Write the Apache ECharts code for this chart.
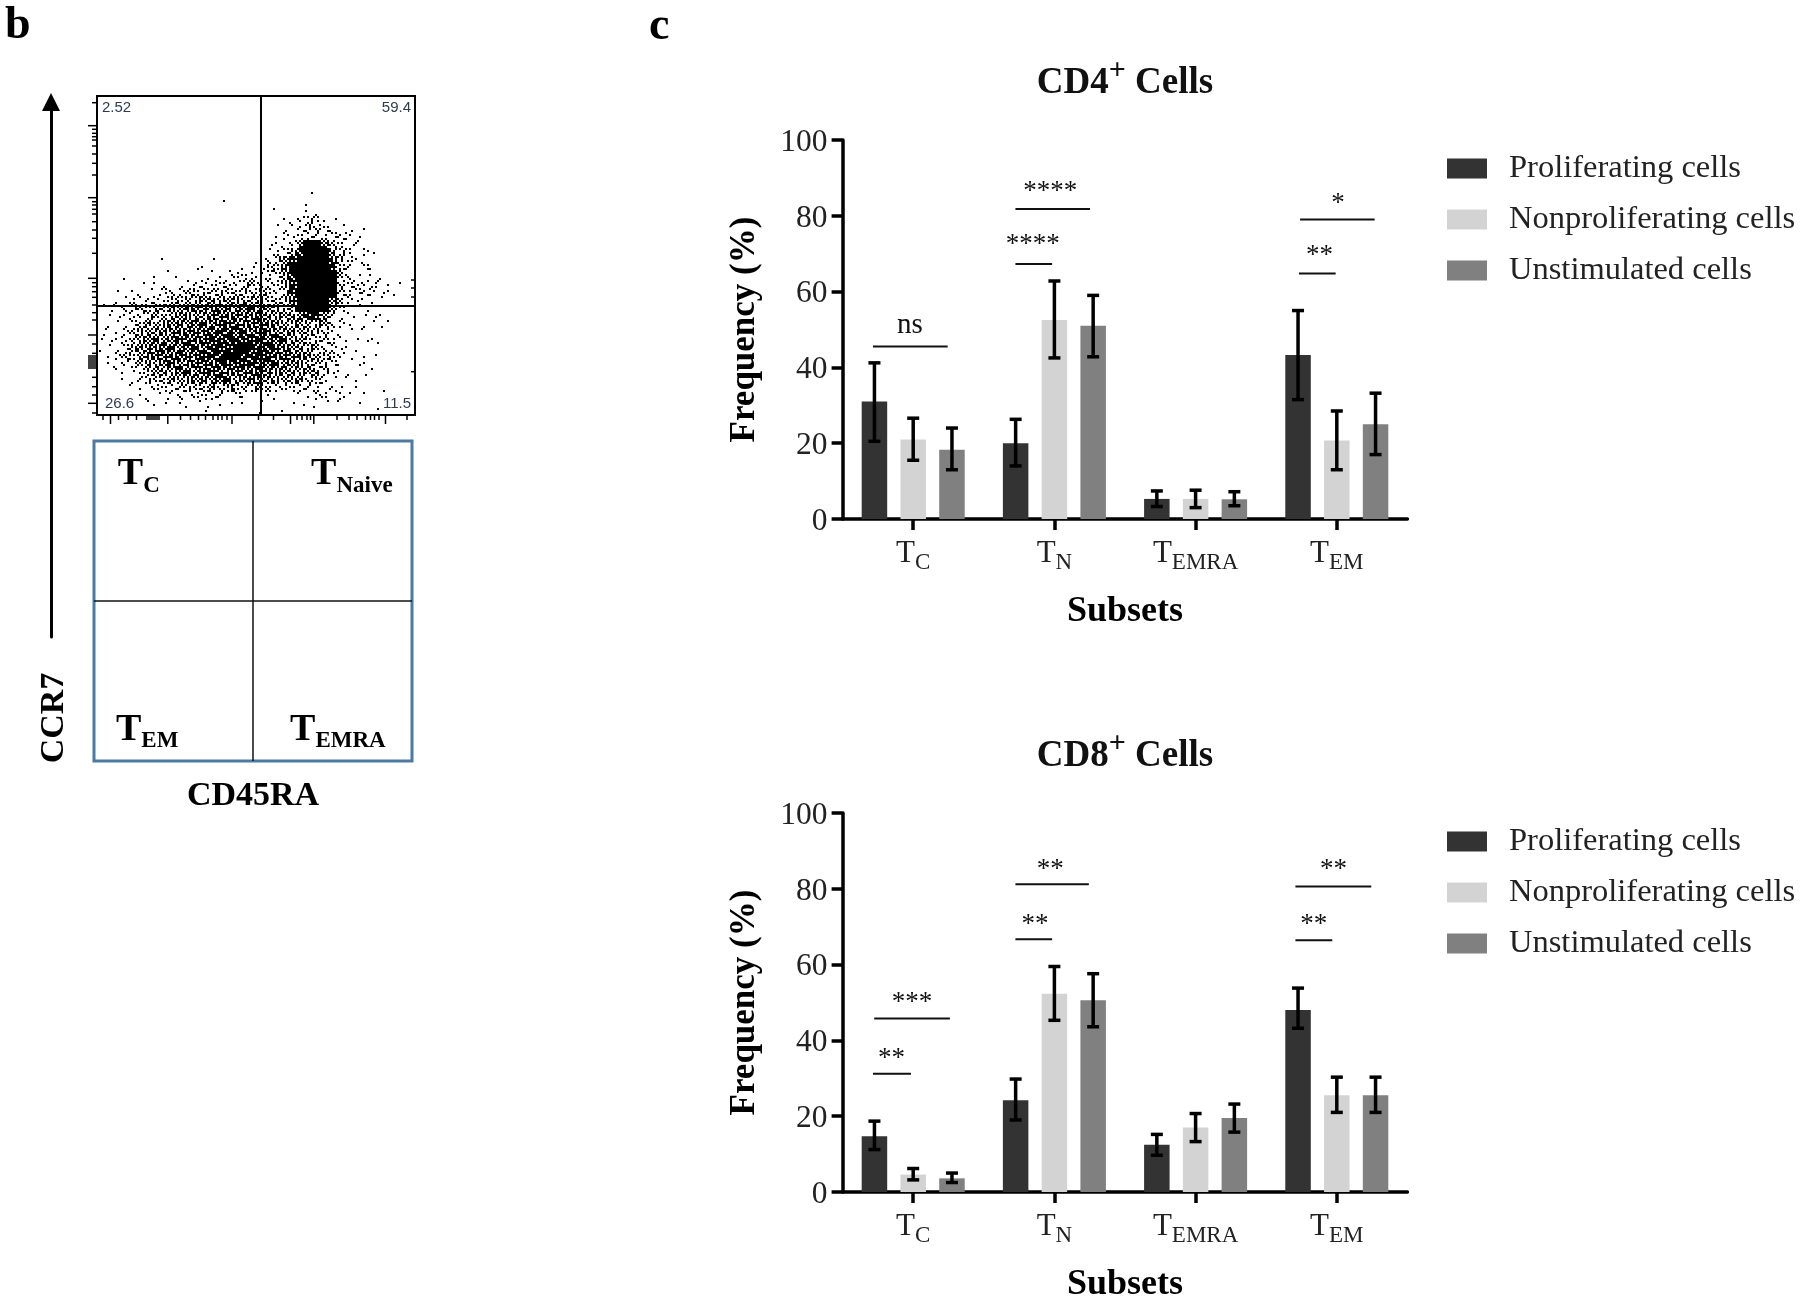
<!DOCTYPE html>
<html><head><meta charset="utf-8">
<style>html,body{margin:0;padding:0;background:#fff}#c{width:1800px;height:1298px}</style>
<script src="https://cdn.jsdelivr.net/npm/echarts@6/dist/echarts.min.js"></script>
</head><body><div id="c"></div>
<script>
// ---------- panel c values ----------
const subsets = ['C', 'N', 'EMRA', 'EM'];
const groupNames = ['Proliferating cells', 'Nonproliferating cells', 'Unstimulated cells'];
const groupColors = ['#333333', '#d3d3d3', '#808080'];
const yTicksMax = 100;

const cd4Prolif = [31, 20, 5.3, 43.3];
const cd4ProlifLow = [20.5, 14, 3.3, 31.5];
const cd4ProlifHigh = [41.2, 26.3, 7.4, 55];
const cd4Non = [21, 52.5, 5.3, 20.7];
const cd4NonLow = [15.5, 42.5, 3, 13];
const cd4NonHigh = [26.6, 62.8, 7.6, 28.5];
const cd4Unstim = [18.3, 51, 5.2, 25];
const cd4UnstimLow = [13, 42.8, 3.5, 17];
const cd4UnstimHigh = [24, 59, 7.2, 33.2];

const cd8Prolif = [14.7, 24.2, 12.5, 48];
const cd8ProlifLow = [11.2, 19, 9.7, 43.2];
const cd8ProlifHigh = [18.7, 29.8, 15.2, 53.8];
const cd8Non = [4.6, 52.3, 17, 25.5];
const cd8NonLow = [3.2, 45.3, 13.3, 21];
const cd8NonHigh = [6.2, 59.5, 20.7, 30.3];
const cd8Unstim = [3.6, 50.6, 19.5, 25.5];
const cd8UnstimLow = [2.5, 43.6, 15.8, 21];
const cd8UnstimHigh = [5, 57.6, 23.2, 30.3];

// significance brackets: category, from, to (category widths from its centre), value
const cd4SigLines = [[0,-.285,.244,45.5],[1,-.276,.252,81.8],[1,-.276,-.016,67.3],[3,-.26,.268,79],[3,-.268,-.008,64.8]];
const cd4SigMarks = ['ns','****','****','*','**'];
const cd4SigPos = [[0,-.024,51.2],[1,-.03,87.9],[1,-.154,73.9],[3,.008,84.8],[3,-.122,70.9]];
const cd8SigLines = [[0,-.276,.26,45.8],[0,-.285,-.016,31.2],[1,-.276,.244,81.2],[1,-.276,-.016,66.7],[3,-.293,.244,80.6],[3,-.293,-.032,66.4]];
const cd8SigMarks = ['***','**','**','**','**','**'];
const cd8SigPos = [[0,-.008,51.5],[0,-.154,36.7],[1,-.03,86.7],[1,-.138,72.1],[3,-.024,86.7],[3,-.163,72.1]];

// ---------- panel b values ----------
const flowPercents = ['2.52', '59.4', '26.6', '11.5'];
const gateX = 163.5;
const gateY = 210;
// dot density: one string per 8-unit row, one digit per 8-unit column
const flowDensity = [
"","","","","","","","","","","","",
"..........................1",
"...............1..........1",
"......................1...11",
".......................1123211",
"......................1112332111.1",
"......................12122222221",
".....................1112699632 2",
".....................12248999532 21",
"........1.....1....1.2358999973211",
"........1...111.1.11133699999832 21",
"...1...1.1...1.112221225899999321 11",
".....1.11.1122222233222489999932222111",
"..1.1111222333333333332389999932222111",
"..1121222334444444444333799997321111",
"1112333445566666666665435999952 11",
".11122333555556666666554468852111111",
".1112344556666777766665544444221 1111",
"11123455566677788777766554433111 1",
"111235566677778888888776543332111111",
"111245667777778889988876554322111",
".1233566677778889988887766543321 11",
".112235566667778788877665543321 11",
"..111235556667776667765555443111 11",
"...112333455566765566544443321 11",
"....111222333343433333222222 21.1..1",
".....11111212222 21..11..1122 21.1",
"......111.1111.11.1.1...11.11.1.1",
"..........1..1......1..1..1.....1..1"
];
const doseOrder = [0,8,2,10,12,4,14,6,3,11,1,9,15,7,13,5];
const dotCount = [0,1,3,5,7,8,10,11,13,16];

const flowTicksX = [6,13.5,21.5,31,39.5,50,52,54,56,58,60,62,70.8,83.5,93.5,101.5,108.5,116,121,125,130,135,161.5,176.5,193.5,200,205,210,213.5,216.8,240,252,260,268.5,273.5,277.5,282,288.5,310];
const flowMajorX = [13.5,70.8,135,193.5,216.8,288.5];
const flowTicksY = [6.7,29.7,33.3,37.3,40.7,44,50,58,67.3,79,101.7,105.7,109,113.3,118,125.7,134,142.3,157.3,182.3,186.7,190.7,195.7,201.3,209,216.7,224,239,248,257.3,260,262,264,266,268,270,272,281.3,290.7,299,307.3,317];
const flowMajorY = [29.7,101.7,182.3,239,260,262,264,266,268,270,272,307.3];
const flowRightTicks = [184,192,201,275.7];

const quadrantLabels = [
  { x: 0, y: 0, sub: 'C' }, { x: 1, y: 0, sub: 'Naive' },
  { x: 0, y: 1, sub: 'EM' }, { x: 1, y: 1, sub: 'EMRA' }
];
const quadrantAnchors = [[.15,.215],[.365,.215],[.138,.812],[.233,.812]];

// ---------- layout ----------
const SERIF = 'Liberation Serif';
const grids = [
  { left: 97, top: 96, width: 318, height: 319, show: true, borderColor: '#000', borderWidth: 2, backgroundColor: '#fff', outerBoundsMode: 'none' },
  { left: 94, top: 441, width: 318, height: 320, show: true, borderColor: '#4a7ba6', borderWidth: 3, backgroundColor: 'transparent', outerBoundsMode: 'none' },
  { left: 51, top: 102, width: 1, height: 535, outerBoundsMode: 'none' },
  { left: 842.6, top: 140, width: 564.8, height: 379, outerBoundsMode: 'none' },
  { left: 842.6, top: 813, width: 564.8, height: 379, outerBoundsMode: 'none' }
];

function catAxis(gi) {
  return {
    type: 'category', gridIndex: gi, data: subsets,
    name: 'Subsets', nameLocation: 'middle', nameGap: 75,
    nameTextStyle: { fontFamily: SERIF, fontWeight: 'bold', fontSize: 36, color: '#000' },
    axisLine: { lineStyle: { color: '#000', width: 3.5 } },
    axisTick: { show: true, alignWithLabel: true, length: 11, lineStyle: { color: '#000', width: 3.5 } },
    axisLabel: {
      interval: 0, margin: 19, color: '#222',
      formatter: v => '{t|T}{s|' + v + '}',
      rich: {
        t: { fontFamily: SERIF, fontSize: 31, lineHeight: 34, color: '#222', verticalAlign: 'top' },
        s: { fontFamily: SERIF, fontSize: 23, lineHeight: 26, color: '#222', verticalAlign: 'top', padding: [13,0,0,0] }
      }
    }
  };
}
function valAxis(gi) {
  return {
    type: 'value', gridIndex: gi, min: 0, max: yTicksMax, interval: 20,
    name: 'Frequency (%)', nameLocation: 'middle', nameGap: 80, nameRotate: 90,
    nameTextStyle: { fontFamily: SERIF, fontWeight: 'bold', fontSize: 35, color: '#000' },
    splitLine: { show: false },
    axisLine: { show: true, lineStyle: { color: '#000', width: 3.5 } },
    axisTick: { show: true, length: 11, lineStyle: { color: '#000', width: 3.5 } },
    axisLabel: {
      margin: 15, formatter: '{v|{value}}',
      rich: { v: { fontFamily: SERIF, fontSize: 31.5, lineHeight: 32, color: '#222', padding: [5,0,0,0] } }
    }
  };
}
function flowAxis(gi, dim, max) {
  return { type: 'value', gridIndex: gi, min: 0, max: max, inverse: dim === 'y', show: false };
}

function barSeries(name, vals, i, xi) {
  return { type: 'bar', name, data: vals, xAxisIndex: xi, yAxisIndex: xi, barWidth: 25.5, barGap: '52%',
           itemStyle: { color: groupColors[i] }, silent: true, z: 2 };
}
function errorSeries(low, high, i, xi) {
  const frac = 0.2745 * (i - 1);
  return {
    type: 'custom', xAxisIndex: xi, yAxisIndex: xi, z: 5, silent: true,
    data: subsets.map((_, k) => [k, low[k], high[k]]),
    renderItem(p, api) {
      const unit = api.size([1, 0])[0];
      const cx = api.coord([api.value(0), 0])[0] + frac * unit;
      const y0 = api.coord([0, api.value(1)])[1];
      const y1 = api.coord([0, api.value(2)])[1];
      const st = { stroke: '#000', lineWidth: 3.5 };
      const cap = 6;
      return { type: 'group', children: [
        { type: 'line', shape: { x1: cx, y1: y0, x2: cx, y2: y1 }, style: st },
        { type: 'line', shape: { x1: cx - cap, y1: y0, x2: cx + cap, y2: y0 }, style: st },
        { type: 'line', shape: { x1: cx - cap, y1: y1, x2: cx + cap, y2: y1 }, style: st }
      ] };
    }
  };
}
function sigSeries(lines, marks, pos, xi) {
  return [{
    type: 'custom', xAxisIndex: xi, yAxisIndex: xi, z: 6, silent: true, data: lines,
    renderItem(p, api) {
      const unit = api.size([1, 0])[0];
      const c = api.coord([api.value(0), api.value(3)]);
      return { type: 'line', shape: { x1: c[0] + api.value(1) * unit, y1: c[1], x2: c[0] + api.value(2) * unit, y2: c[1] },
               style: { stroke: '#111', lineWidth: 2 } };
    }
  }, {
    type: 'custom', xAxisIndex: xi, yAxisIndex: xi, z: 6, silent: true, data: pos,
    renderItem(p, api) {
      const unit = api.size([1, 0])[0];
      const c = api.coord([api.value(0), api.value(2)]);
      const txt = marks[p.dataIndex];
      const isNs = txt === 'ns';
      return { type: 'text', x: c[0] + api.value(1) * unit, y: c[1] + (isNs ? 0 : 6),
               style: { text: txt, fontFamily: SERIF, fontSize: isNs ? 29 : 27, fill: '#111', align: 'center', verticalAlign: 'middle' } };
    }
  }];
}
function legendAt(top) {
  return { orient: 'vertical', left: 1447, top, padding: 0, icon: 'rect', itemWidth: 40, itemHeight: 20, itemGap: 16, selectedMode: false,
           data: groupNames,
           textStyle: { fontFamily: SERIF, fontSize: 32.5, lineHeight: 35, color: '#222', padding: [0,0,0,17] } };
}
const titleRich = {
  m: { fontFamily: SERIF, fontWeight: 'bold', fontSize: 37, lineHeight: 44, color: '#111' },
  p: { fontFamily: SERIF, fontSize: 30, lineHeight: 20, color: '#111', padding: [0,0,23,0] }
};
const markRich = {
  t: { fontFamily: SERIF, fontWeight: 'bold', fontSize: 38, lineHeight: 40, color: '#000', verticalAlign: 'top' },
  s: { fontFamily: SERIF, fontWeight: 'bold', fontSize: 23, lineHeight: 26, color: '#000', verticalAlign: 'top', padding: [19,0,0,0] }
};

const option = {
  animation: false,
  backgroundColor: '#fff',
  textStyle: { fontFamily: SERIF },
  title: [
    { text: 'b', left: 5, top: 3, padding: 0, textStyle: { fontFamily: SERIF, fontWeight: 'bold', fontSize: 46, color: '#000' } },
    { text: 'c', left: 649, top: 4, padding: 0, textStyle: { fontFamily: SERIF, fontWeight: 'bold', fontSize: 46, color: '#000' } },
    { text: '{m|CD4}{p|+}{m| Cells}', left: 1125, top: 61, padding: 0, textAlign: 'center', textStyle: { rich: titleRich } },
    { text: '{m|CD8}{p|+}{m| Cells}', left: 1125, top: 734, padding: 0, textAlign: 'center', textStyle: { rich: titleRich } },
    { text: 'CD45RA', left: 253, top: 779, padding: 0, textAlign: 'center', textStyle: { fontFamily: SERIF, fontWeight: 'bold', fontSize: 34, color: '#000' } }
  ],
  legend: [legendAt(151), legendAt(824)],
  grid: grids,
  xAxis: [ flowAxis(0,'x',318), { type:'value', gridIndex:1, min:0, max:2, interval:1,
      axisLine:{show:false}, axisTick:{show:false}, axisLabel:{show:false},
      splitLine:{show:true, showMinLine:false, showMaxLine:false, lineStyle:{color:'#111', width:1.5}} },
    { type:'value', gridIndex:2, show:false }, catAxis(3), catAxis(4) ],
  yAxis: [ flowAxis(0,'y',319), { type:'value', gridIndex:1, min:0, max:2, interval:1, inverse:true,
      axisLine:{show:false}, axisTick:{show:false}, axisLabel:{show:false},
      splitLine:{show:true, showMinLine:false, showMaxLine:false, lineStyle:{color:'#111', width:1.5}} },
    { type:'value', gridIndex:2, min:0, max:1, splitLine:{show:false}, axisTick:{show:false}, axisLabel:{show:false},
      axisLine:{show:true, onZero:false, symbol:['none','triangle'], symbolSize:[18,18], lineStyle:{color:'#000', width:3}},
      name:'{a|CCR7}', nameLocation:'start', nameRotate:90, nameGap:81,
      nameTextStyle:{align:'center', verticalAlign:'middle',
        rich:{ a:{fontFamily:SERIF, fontWeight:'bold', fontSize:34, lineHeight:36, color:'#000', padding:[7,0,0,0]} } } },
    valAxis(3), valAxis(4) ],
  series: [
    // dot plot rendered from the density read-out
    { type: 'custom', xAxisIndex: 0, yAxisIndex: 0, z: 3, silent: true,
      data: flowDensity.flatMap((row, r) => row.split('').map((ch, c) => [c, r, ch >= '1' && ch <= '9' ? +ch : 0]).filter(d => d[2] > 0)),
      renderItem(p, api) {
        const c = api.value(0), r = api.value(1), d = api.value(2);
        const n = dotCount[d], off = (c * 5 + r * 7) % 16, kids = [];
        const base = api.coord([c * 8, r * 8]);
        const pick = Array.from({length:16}, (_, i) => i).filter(i => (doseOrder[i] + off) % 16 < n);
        for (const i of pick) {
          kids.push({ type: 'rect', shape: { x: base[0] + (i % 4) * 2, y: base[1] + (i >> 2) * 2, width: 2, height: 2 }, style: { fill: '#000' } });
        }
        return { type: 'group', children: kids };
      } },
    // gates
    { type: 'line', xAxisIndex: 0, yAxisIndex: 0, data: [], z: 4, silent: true,
      markLine: { silent: true, symbol: 'none', label: { show: false }, lineStyle: { color: '#000', width: 2, type: 'solid' },
                  animation: false, data: [{ xAxis: gateX }, { yAxis: gateY }] } },
    // plot ticks
    { type: 'custom', xAxisIndex: 0, yAxisIndex: 0, z: 4, silent: true,
      data: flowTicksX.map(v => [0, v]).concat(flowTicksY.map(v => [1, v]), flowRightTicks.map(v => [2, v])),
      renderItem(p, api) {
        const kind = api.value(0), v = api.value(1);
        const st = { stroke: '#000', lineWidth: 1.5 };
        if (kind === 0) {
          const a = api.coord([v, 319]);
          const len = flowMajorX.includes(v) ? 9 : 5;
          return { type: 'line', shape: { x1: a[0], y1: a[1], x2: a[0], y2: a[1] + len }, style: st };
        }
        if (kind === 1) {
          const a = api.coord([0, v]);
          const len = flowMajorY.includes(v) ? 9 : 5;
          return { type: 'line', shape: { x1: a[0] - len, y1: a[1], x2: a[0], y2: a[1] }, style: st };
        }
        const a = api.coord([318, v]);
        return { type: 'line', shape: { x1: a[0] - 4, y1: a[1], x2: a[0], y2: a[1] }, style: st };
      } },
    // plot percentages
    { type: 'custom', xAxisIndex: 0, yAxisIndex: 0, z: 7, silent: true,
      data: [[5,12],[314,12],[8,308],[314,308]],
      renderItem(p, api) {
        const a = api.coord([api.value(0), api.value(1)]);
        return { type: 'text', x: a[0], y: a[1],
          style: { text: flowPercents[p.dataIndex], fontFamily: 'Liberation Sans', fontSize: 15, fill: '#2c3a55',
                   align: p.dataIndex % 2 ? 'right' : 'left', verticalAlign: 'middle' } };
      } },
    // quadrant names
    { type: 'custom', xAxisIndex: 1, yAxisIndex: 1, z: 7, silent: true,
      data: quadrantLabels.map((q, i) => [q.x + quadrantAnchors[i][0], q.y + quadrantAnchors[i][1]]),
      renderItem(p, api) {
        const a = api.coord([api.value(0), api.value(1)]);
        return { type: 'text', x: a[0], y: a[1],
          style: { text: '{t|T}{s|' + quadrantLabels[p.dataIndex].sub + '}', rich: markRich, align: 'left', verticalAlign: 'middle' } };
      } },
    barSeries(groupNames[0], cd4Prolif, 0, 3), barSeries(groupNames[1], cd4Non, 1, 3), barSeries(groupNames[2], cd4Unstim, 2, 3),
    errorSeries(cd4ProlifLow, cd4ProlifHigh, 0, 3), errorSeries(cd4NonLow, cd4NonHigh, 1, 3), errorSeries(cd4UnstimLow, cd4UnstimHigh, 2, 3),
    ...sigSeries(cd4SigLines, cd4SigMarks, cd4SigPos, 3),
    barSeries(groupNames[0], cd8Prolif, 0, 4), barSeries(groupNames[1], cd8Non, 1, 4), barSeries(groupNames[2], cd8Unstim, 2, 4),
    errorSeries(cd8ProlifLow, cd8ProlifHigh, 0, 4), errorSeries(cd8NonLow, cd8NonHigh, 1, 4), errorSeries(cd8UnstimLow, cd8UnstimHigh, 2, 4),
    ...sigSeries(cd8SigLines, cd8SigMarks, cd8SigPos, 4)
  ]
};
const chart = echarts.init(document.getElementById('c'), null, { renderer: 'canvas' });
chart.setOption(option);
</script></body></html>
